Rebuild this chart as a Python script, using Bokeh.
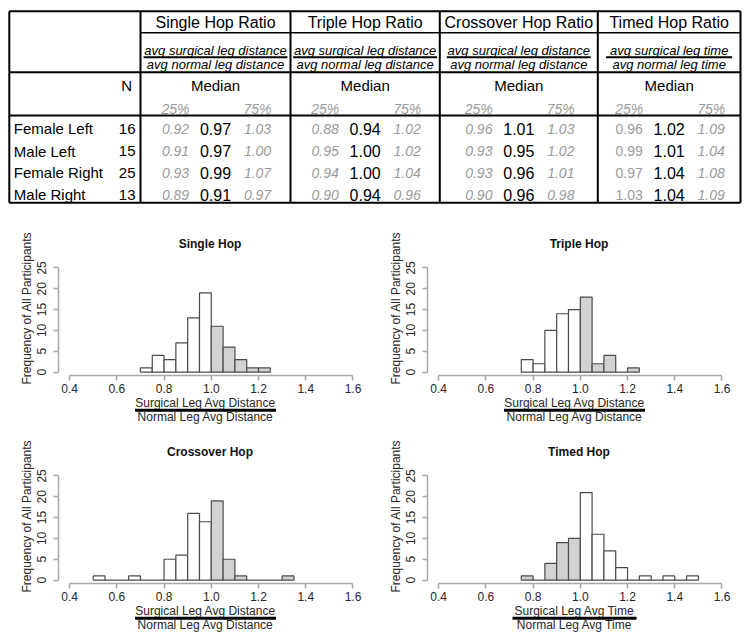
from bokeh.plotting import figure
from bokeh.models import Range1d, FixedTicker, ColumnDataSource, PrintfTickFormatter, Title
from bokeh.layouts import column, row
from bokeh.embed import file_html
from bokeh.resources import INLINE
from bokeh.core.properties import value

FONT = "Liberation Sans"

# ---------------- table data ----------------
groups = ["Female Left", "Male Left", "Female Right", "Male Right"]
n_counts = [16, 15, 25, 13]
hop_titles = ["Single Hop Ratio", "Triple Hop Ratio", "Crossover Hop Ratio", "Timed Hop Ratio"]
ratio_num = ["avg surgical leg distance", "avg surgical leg distance",
             "avg surgical leg distance", "avg surgical leg time"]
ratio_den = ["avg normal leg distance", "avg normal leg distance",
             "avg normal leg distance", "avg normal leg time"]
single_q25 = [0.92, 0.91, 0.93, 0.89]
single_med = [0.97, 0.97, 0.99, 0.91]
single_q75 = [1.03, 1.00, 1.07, 0.97]
triple_q25 = [0.88, 0.95, 0.94, 0.90]
triple_med = [0.94, 1.00, 1.00, 0.94]
triple_q75 = [1.02, 1.02, 1.04, 0.96]
cross_q25 = [0.96, 0.93, 0.93, 0.90]
cross_med = [1.01, 0.95, 0.96, 0.96]
cross_q75 = [1.03, 1.02, 1.01, 0.98]
timed_q25 = [0.96, 0.99, 0.97, 1.03]
timed_med = [1.02, 1.01, 1.04, 1.04]
timed_q75 = [1.09, 1.04, 1.08, 1.09]

# ---------------- histogram data ----------------
bin_width = 0.05
single_start = 0.70
single_counts = [1, 4, 3, 7, 13, 19, 11, 6, 3, 1, 1]
triple_start = 0.75
triple_counts = [3, 2, 10, 14, 15, 18, 2, 4, 0, 1]
cross_start = 0.50
cross_counts = [1, 0, 0, 1, 0, 0, 5, 6, 16, 14, 19, 5, 1, 0, 0, 0, 1]
timed_start = 0.75
timed_counts = [1, 0, 4, 9, 10, 21, 11, 7, 3, 0, 1, 0, 1, 0, 1]
x_ticks = [0.4, 0.6, 0.8, 1.0, 1.2, 1.4, 1.6]
y_ticks = [0, 5, 10, 15, 20, 25]
y_label = "Frequency of All Participants"
dist_num, dist_den = "Surgical Leg Avg Distance", "Normal Leg Avg Distance"
time_num, time_den = "Surgical Leg Avg Time", "Normal Leg Avg Time"

GREY_TXT = "#9a9a9a"
TXT = "#262626"
TOTAL_W = 748

# ---------------- table ----------------
TH = 220
t = figure(width=TOTAL_W, height=TH, x_range=Range1d(0, TOTAL_W), y_range=Range1d(TH, 0),
           output_backend="svg", toolbar_location=None, x_axis_location=None,
           y_axis_location=None, min_border=0, title_location=None)
t.grid.visible = False
t.outline_line_color = None

col_edges = [140, 290, 439.3, 597.3, 740]
T_LEFT, T_TOP, T_RIGHT, T_BOTTOM = 8.8, 10.8, 740, 202.3
centers = [(col_edges[i] + col_edges[i + 1]) / 2 for i in range(4)]

t.segment(x0=[T_LEFT, T_LEFT, T_LEFT, T_RIGHT] + col_edges[:4] + [T_LEFT, T_LEFT],
          y0=[T_TOP, T_BOTTOM, T_TOP, T_TOP] + [T_TOP] * 4 + [71.7, 115],
          x1=[T_RIGHT, T_RIGHT, T_LEFT, T_RIGHT] + col_edges[:4] + [T_RIGHT, T_RIGHT],
          y1=[T_TOP, T_BOTTOM, T_BOTTOM, T_BOTTOM] + [T_BOTTOM] * 4 + [71.7, 115],
          line_color="black", line_width=2)
t.segment(x0=[140], y0=[32.3], x1=[T_RIGHT], y1=[32.3], line_color="black", line_width=1.5)


def txt(fig, xs, ys, texts, size, align="center", style="normal", color="black"):
    src = ColumnDataSource(dict(x=xs, y=ys, text=texts))
    fig.text(x="x", y="y", text="text", source=src, text_font=value(FONT),
             text_font_size=value(size), text_align=align, text_baseline="middle",
             text_font_style=style, text_color=color)


txt(t, centers, [21.7] * 4, hop_titles, "16px")
txt(t, centers, [49.8] * 4, ratio_num, "13px", style="italic")
txt(t, centers, [63.5] * 4, ratio_den, "13px", style="italic")
half = [72, 72, 72, 63]
t.segment(x0=[c - h for c, h in zip(centers, half)], y0=[56.7] * 4,
          x1=[c + h for c, h in zip(centers, half)], y1=[56.7] * 4,
          line_color="black", line_width=2)
txt(t, [131.7], [85], ["N"], "15px", align="right")
txt(t, centers, [85] * 4, ["Median"] * 4, "15px")
txt(t, [c - 40 for c in centers], [108] * 4, ["25%"] * 4, "14px", style="italic", color=GREY_TXT)
txt(t, [c + 42 for c in centers], [108] * 4, ["75%"] * 4, "14px", style="italic", color=GREY_TXT)

row_y = [128.3, 150.7, 172.3, 194]
txt(t, [13.3] * 4, row_y, groups, "15px", align="left")
txt(t, [135] * 4, row_y, [str(n) for n in n_counts], "15px", align="right")

q25s = [single_q25, triple_q25, cross_q25, timed_q25]
meds = [single_med, triple_med, cross_med, timed_med]
q75s = [single_q75, triple_q75, cross_q75, timed_q75]
q25_style = ["italic", "italic", "italic", "normal"]
for c, q25, med, q75, st in zip(centers, q25s, meds, q75s, q25_style):
    txt(t, [c - 40] * 4, row_y, ["%.2f" % v for v in q25], "14px", style=st, color=GREY_TXT)
    txt(t, [c] * 4, row_y, ["%.2f" % v for v in med], "16px")
    txt(t, [c + 42] * 4, row_y, ["%.2f" % v for v in q75], "14px", style="italic", color=GREY_TXT)

# ---------------- histograms ----------------
AXIS_COL = "#a8a8a8"
X0, X1 = 0.353, 1.636
Y0, Y1 = -0.818, 25.818
HIST_H, LAB_H = 177, 31


def hist(title, start, counts, shade_above, width, left_b):
    p = figure(width=width, height=HIST_H, x_range=Range1d(X0, X1), y_range=Range1d(Y0, Y1),
               output_backend="svg", toolbar_location=None, title=title,
               min_border_left=left_b, min_border_right=width - left_b - 303,
               min_border_top=41, min_border_bottom=HIST_H - 155)
    p.grid.visible = False
    p.outline_line_color = None
    p.title.align = "center"
    p.title.text_font = FONT
    p.title.text_font_size = "12px"
    p.title.text_font_style = "bold"
    p.title.text_color = "#111111"
    p.title.standoff = 28

    lefts = [start + i * bin_width for i in range(len(counts))]
    rights = [l + bin_width for l in lefts]
    fills = [("#d2d2d2" if ((l >= 0.999) == shade_above) else "white") for l in lefts]
    src = ColumnDataSource(dict(left=lefts, right=rights, top=counts,
                                bottom=[0] * len(counts), fill=fills))
    p.quad(left="left", right="right", top="top", bottom="bottom", source=src,
           fill_color="fill", line_color="#4a4a4a", line_width=1.2)

    for ax in (p.xaxis[0], p.yaxis[0]):
        ax.axis_line_color = AXIS_COL
        ax.axis_line_width = 1.5
        ax.major_tick_line_color = AXIS_COL
        ax.major_tick_line_width = 1.5
        ax.major_tick_out = 5
        ax.major_tick_in = 0
        ax.minor_tick_line_color = None
        ax.major_label_text_font = FONT
        ax.major_label_text_font_size = "12px"
        ax.major_label_text_color = TXT
        ax.major_label_standoff = 3
    p.yaxis.major_label_standoff = 7
    p.xaxis.ticker = FixedTicker(ticks=x_ticks)
    p.xaxis.bounds = (x_ticks[0], x_ticks[-1])
    p.xaxis.formatter = PrintfTickFormatter(format="%.1f")
    p.yaxis.ticker = FixedTicker(ticks=y_ticks)
    p.yaxis.bounds = (y_ticks[0], y_ticks[-1])
    p.yaxis.formatter = PrintfTickFormatter(format="%d")
    p.yaxis.major_label_orientation = "vertical"

    p.add_layout(Title(text=y_label, align="left", text_font=FONT, text_font_size="12px",
                       text_font_style="normal", text_color=TXT, standoff=2, offset=-9), "left")
    return p


def xlabels(nums, dens, cxs, bar_halves):
    f = figure(width=TOTAL_W, height=LAB_H, x_range=Range1d(0, TOTAL_W), y_range=Range1d(LAB_H, 0),
               output_backend="svg", toolbar_location=None, x_axis_location=None,
               y_axis_location=None, min_border=0, title_location=None)
    f.grid.visible = False
    f.outline_line_color = None
    txt(f, cxs, [5.3] * len(cxs), nums, "12px", color=TXT)
    txt(f, cxs, [19.3] * len(cxs), dens, "12px", color=TXT)
    f.segment(x0=[c - h for c, h in zip(cxs, bar_halves)], y0=[12.8] * len(cxs),
              x1=[c + h for c, h in zip(cxs, bar_halves)], y1=[12.8] * len(cxs),
              line_color="black", line_width=3)
    return f


LW, RW = 375, 373
label_cx = [205, LW + 199]

h1 = hist("Single Hop", single_start, single_counts, True, LW, 58)
h2 = hist("Triple Hop", triple_start, triple_counts, True, RW, 52)
h3 = hist("Crossover Hop", cross_start, cross_counts, True, LW, 58)
h4 = hist("Timed Hop", timed_start, timed_counts, False, RW, 52)
lab1 = xlabels([dist_num, dist_num], [dist_den, dist_den], label_cx, [70.5, 70.5])
lab2 = xlabels([dist_num, time_num], [dist_den, time_den], label_cx, [70.5, 62])

layout = column(t, row(h1, h2), lab1, row(h3, h4), lab2)
open("out.html", "w").write(file_html(layout, INLINE))
